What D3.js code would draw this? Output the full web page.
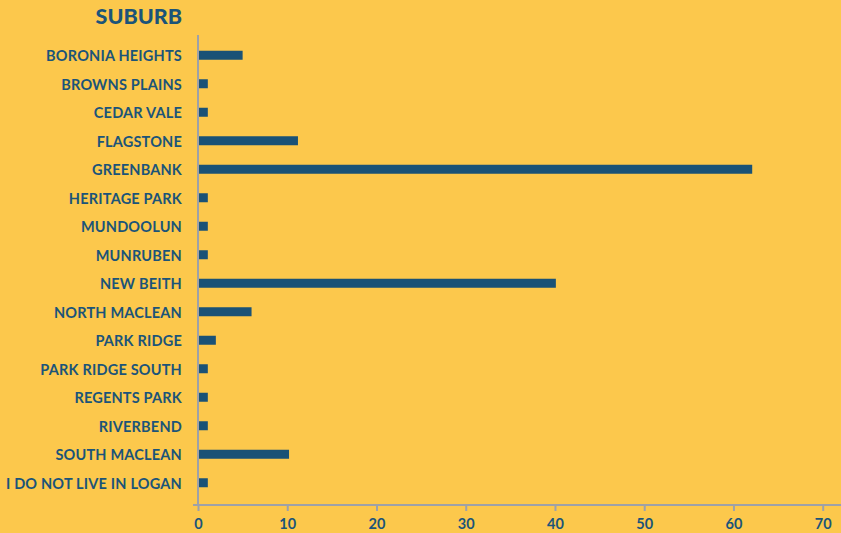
<!DOCTYPE html>
<html>
<head>
<meta charset="utf-8">
<script src="https://cdn.jsdelivr.net/npm/d3@7"></script>
<style>
  html, body { margin: 0; padding: 0; background: #fcc84c; }
  svg { display: block; font-family: Lato, "Open Sans", sans-serif; }
  .label { fill: #1b5479; font-weight: 700; font-size: 14.5px; letter-spacing: 0.2px; }
  .title { fill: #1b5479; font-weight: 900; font-size: 21.5px; }
  .x-axis text { fill: #1b5479; font-weight: 700; font-size: 14.5px; font-family: Lato, sans-serif; }
</style>
</head>
<body>
<script>
const suburbs = [
  "BORONIA HEIGHTS", "BROWNS PLAINS", "CEDAR VALE", "FLAGSTONE", "GREENBANK",
  "HERITAGE PARK", "MUNDOOLUN", "MUNRUBEN", "NEW BEITH", "NORTH MACLEAN",
  "PARK RIDGE", "PARK RIDGE SOUTH", "REGENTS PARK", "RIVERBEND", "SOUTH MACLEAN",
  "I DO NOT LIVE IN LOGAN"
];
const values = [5, 1.1, 1.1, 11.2, 62.1, 1.1, 1.1, 1.1, 40.1, 6, 2, 1.1, 1.1, 1.1, 10.2, 1.1];
const xTicks = [0, 10, 20, 30, 40, 50, 60, 70];

const width = 841, height = 533;
const left = 198, axisY = 505;

const svg = d3.select("body").append("svg")
  .attr("width", width)
  .attr("height", height);

svg.append("rect").attr("width", width).attr("height", height).attr("fill", "#fcc84c");

const x = d3.scaleLinear().domain([0, 70]).range([left, 822.7]);
const y = d3.scaleBand().domain(suburbs).range([41, 497]).paddingInner(0.68).paddingOuter(0.34);

// Bars
svg.append("g")
  .selectAll("rect")
  .data(suburbs)
  .join("rect")
  .attr("x", x(0) - 1)
  .attr("y", d => y.bandwidth() / 2 + y(d) - 4.5)
  .attr("width", (d, i) => x(values[i]) - x(0) + 1)
  .attr("height", 9)
  .attr("fill", "#1a5276");

// Category labels
svg.append("g")
  .selectAll("text")
  .data(suburbs)
  .join("text")
  .attr("class", "label")
  .attr("x", 182)
  .attr("y", d => y(d) + y.bandwidth() / 2 + 1)
  .attr("dy", "0.36em")
  .attr("text-anchor", "end")
  .text(d => d);

// Vertical axis line
svg.append("line")
  .attr("x1", x(0)).attr("x2", x(0))
  .attr("y1", 35).attr("y2", axisY)
  .attr("stroke", "#9ea1a8").attr("stroke-width", 2);

// X axis
const xAxis = svg.append("g")
  .attr("class", "x-axis")
  .attr("transform", `translate(0,${axisY})`)
  .call(d3.axisBottom(x).tickValues(xTicks).tickSize(6).tickPadding(8).tickSizeOuter(0));
xAxis.select(".domain").remove();
xAxis.selectAll(".tick line").attr("stroke", "#9ea1a8").attr("stroke-width", 2);
xAxis.append("line")
  .attr("x1", 193).attr("x2", width)
  .attr("stroke", "#9ea1a8").attr("stroke-width", 2);

// Title
svg.append("text")
  .attr("class", "title")
  .attr("x", 182)
  .attr("y", 24)
  .attr("text-anchor", "end")
  .text("SUBURB");
</script>
</body>
</html>
